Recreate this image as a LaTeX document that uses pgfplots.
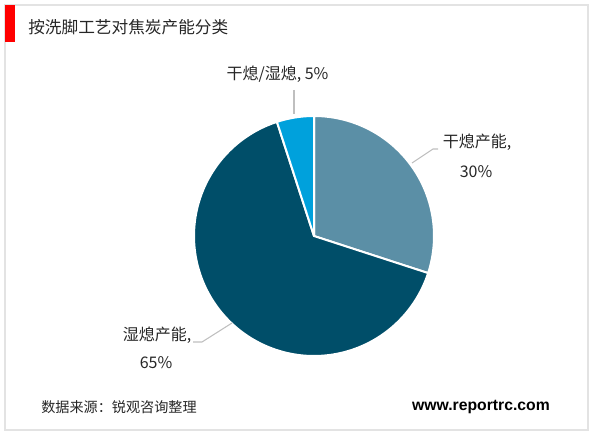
\documentclass[border=0pt]{standalone}
\usepackage{pgfplots}
\usepackage{pgfplotstable}
\pgfplotsset{compat=1.18}
\usepackage{fontspec}
\setmainfont{Noto Sans CJK SC}
\newfontfamily\webfont{Liberation Sans}

\definecolor{cGan}{HTML}{5B8FA6}
\definecolor{cShi}{HTML}{004E69}
\definecolor{cMix}{HTML}{00A1DC}
\definecolor{cText}{HTML}{262626}
\definecolor{cLine}{HTML}{BFBFBF}

% share of coke capacity by quenching process (%)
\pgfplotstableread{
label value
ganxi 30
shixi 65
mixed 5
}\piedata

\begin{document}
\begin{tikzpicture}[x=0.75pt,y=0.75pt]
  \path (0,0) rectangle (600,433);
  \draw[gray!22, line width=1pt] (5,3) rectangle (588,428);
  \fill[red] (5,391) rectangle (15,428);
  \node[anchor=west, inner sep=0, text=cText, font=\fontsize{12.5}{14}\selectfont]
    at (28,406) {按洗脚工艺对焦炭产能分类};

  \pgfplotstablegetelem{0}{value}\of\piedata \let\vA\pgfplotsretval
  \pgfplotstablegetelem{1}{value}\of\piedata \let\vB\pgfplotsretval
  \pgfplotstablegetelem{2}{value}\of\piedata \let\vC\pgfplotsretval
  \pgfmathsetmacro\aA{90}
  \pgfmathsetmacro\aB{\aA-3.6*\vA}
  \pgfmathsetmacro\aC{\aB-3.6*\vB}
  \pgfmathsetmacro\aD{\aC-3.6*\vC}

  \begin{axis}[
      at={(235.5pt,147.75pt)}, anchor=center,
      scale only axis, width=180pt, height=180pt,
      xmin=-1, xmax=1, ymin=-1, ymax=1,
      hide axis, clip=false]
    \addplot[fill=cGan, draw=white, line width=1.5pt, line join=round,
      domain=\aB:\aA, samples=80, variable=\t]
      ({cos(\t)},{sin(\t)}) -- (axis cs:0,0) -- cycle;
    \addplot[fill=cShi, draw=white, line width=1.5pt, line join=round,
      domain=\aC:\aB, samples=150, variable=\t]
      ({cos(\t)},{sin(\t)}) -- (axis cs:0,0) -- cycle;
    \addplot[fill=cMix, draw=white, line width=1.5pt, line join=round,
      domain=\aD:\aC, samples=20, variable=\t]
      ({cos(\t)},{sin(\t)}) -- (axis cs:0,0) -- cycle;
  \end{axis}

  % leader lines
  \draw[cLine, line width=0.8pt] (294,343) -- (294,319);
  \draw[cLine, line width=0.8pt] (412,270) -- (433,284) -- (438,284);
  \draw[cLine, line width=0.8pt] (193,91) -- (202,91) -- (232,110);

  % data labels
  \begin{scope}[every node/.style={inner sep=0, text=cText, font=\fontsize{12}{14}\selectfont}]
    \node at (277.5,359) {干熄/湿熄, 5\%};
    \node at (477,291) {干熄产能,};
    \node at (476,261) {30\%};
    \node at (157,98) {湿熄产能,};
    \node at (156,70) {65\%};
  \end{scope}

  \node[anchor=west, inner sep=0, text=cText, font=\fontsize{10.6}{12}\selectfont]
    at (41,26) {数据来源：锐观咨询整理};
  \node[anchor=east, inner sep=0, text=black, font=\webfont\bfseries\fontsize{11.8}{13}\selectfont]
    at (550,26) {www.reportrc.com};
\end{tikzpicture}
\end{document}
